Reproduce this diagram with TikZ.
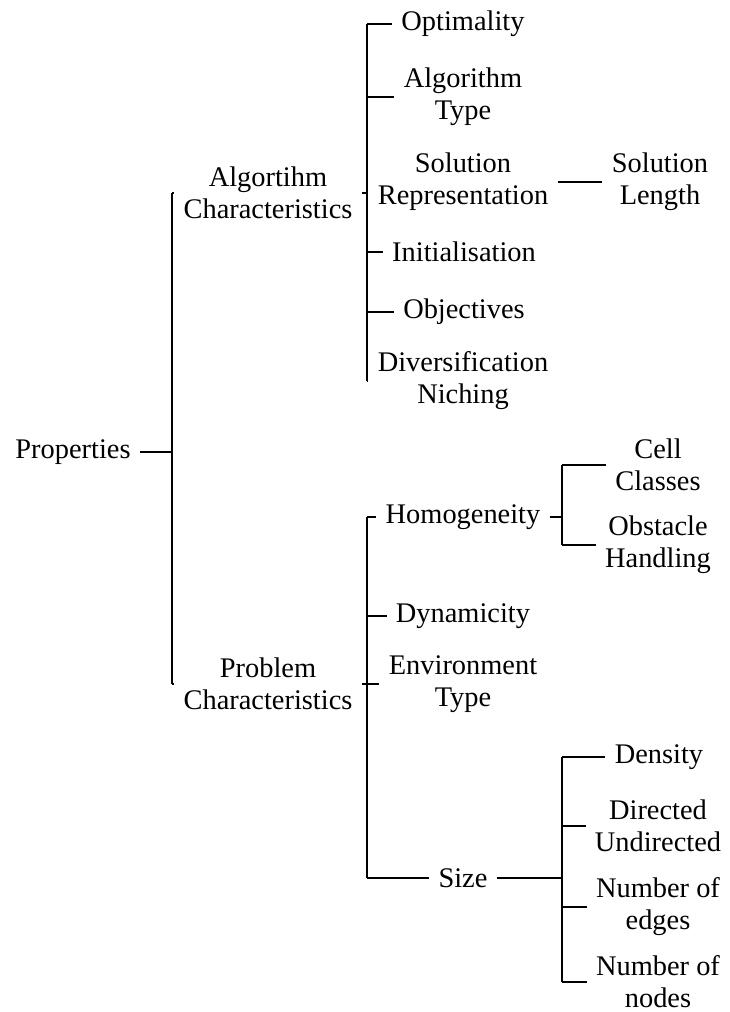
\documentclass[tikz,border=0pt]{standalone}
\usepackage{fontspec}
\setmainfont{Liberation Serif}
\begin{document}
\begin{tikzpicture}[x=0.5pt,y=-0.5pt,
  tn/.style={align=center, inner sep=4.5pt, font=\fontsize{14.2}{16}\selectfont},
  ln/.style={line width=0.65pt},
  thick ln/.style={line width=0.9pt}]
\useasboundingbox (0,0) rectangle (729,1012);
% nodes
\node[tn] (prop) at (73,452) {Properties};
\node[tn] (ac) at (268,193) {Algortihm\\Characteristics};
\node[tn] (pc) at (268,684) {Problem\\Characteristics};
\node[tn] (opt) at (463,24) {Optimality};
\node[tn] (atype) at (463,97) {Algorithm\\Type};
\node[tn] (solrep) at (463,182) {Solution\\Representation};
\node[tn] (init) at (464,252) {Initialisation};
\node[tn] (obj) at (464,312) {Objectives};
\node[tn] (div) at (463,381) {Diversification\\Niching};
\node[tn] (sollen) at (660,182) {Solution\\Length};
\node[tn] (hom) at (463,517) {Homogeneity};
\node[tn] (dyn) at (463,616) {Dynamicity};
\node[tn] (env) at (463,684) {Environment\\Type};
\node[tn] (size) at (463,878) {Size};
\node[tn] (cell) at (658,465) {Cell\\Classes};
\node[tn] (obst) at (658,545) {Obstacle\\Handling};
\node[tn] (dens) at (659,757) {Density};
\node[tn] (dir) at (658,826) {Directed\\Undirected};
\node[tn] (edg) at (658,907) {Number of\\edges};
\node[tn] (nod) at (658,982) {Number of\\nodes};
% bar x positions
\coordinate (b0) at (172,452);
\coordinate (b1) at (367,193);
\coordinate (b2) at (367,684);
\coordinate (b3) at (562,517);
\coordinate (b4) at (562,878);
% Properties
\draw[ln] (prop.east) -- (b0);
\draw[ln] (ac.west -| b0) -- (pc.west -| b0);
\foreach \c in {ac,pc}
  \draw[ln] (\c.west -| b0) -- (\c.west);
% Algorithm characteristics
\draw[ln] (ac.east) -- (b1);
\draw[ln] (opt.west -| b1) -- (div.west -| b1);
\foreach \c in {opt,atype,solrep,init,obj,div}
  \draw[ln] (\c.west -| b1) -- (\c.west);
\draw[ln] (solrep.east) -- (sollen.west);
% Problem characteristics
\draw[ln] (pc.east) -- (b2);
\draw[ln] (hom.west -| b2) -- (size.west -| b2);
\foreach \c in {hom,dyn,env,size}
  \draw[ln] (\c.west -| b2) -- (\c.west);
% Homogeneity
\draw[ln] (hom.east) -- (b3);
\draw[ln] (cell.west -| b3) -- (obst.west -| b3);
\foreach \c in {cell,obst}
  \draw[ln] (\c.west -| b3) -- (\c.west);
% Size
\draw[thick ln] (size.east) -- (b4);
\draw[ln] (dens.west -| b4) -- (nod.west -| b4);
\foreach \c in {dens,dir,edg,nod}
  \draw[ln] (\c.west -| b4) -- (\c.west);
\end{tikzpicture}
\end{document}
